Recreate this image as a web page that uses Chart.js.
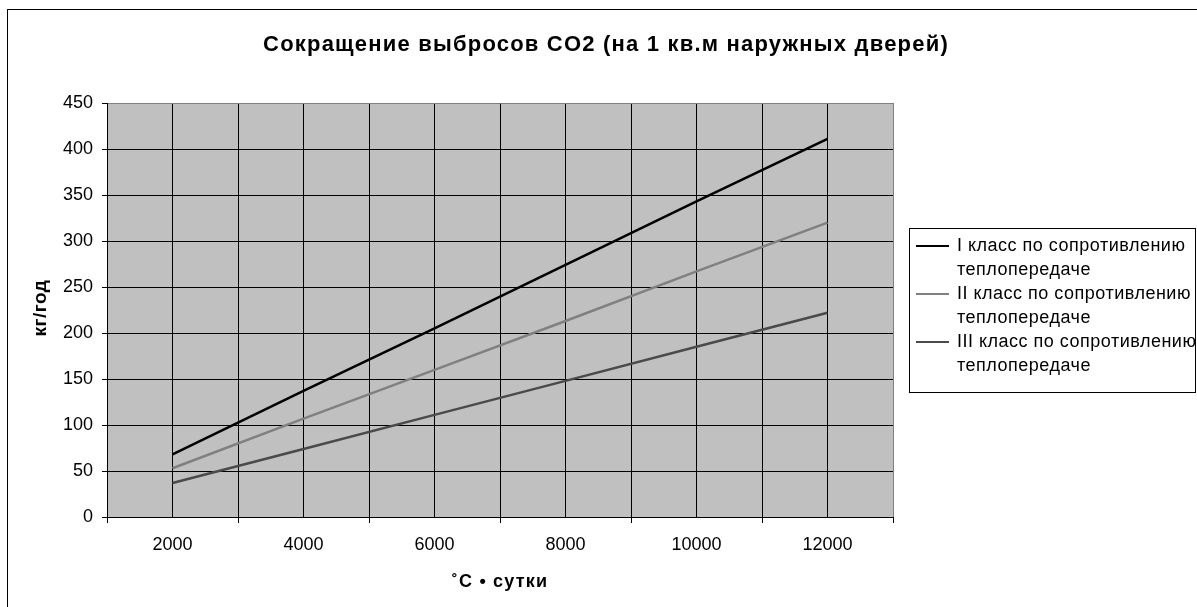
<!DOCTYPE html>
<html>
<head>
<meta charset="utf-8">
<script src="https://cdn.jsdelivr.net/npm/chart.js@4/dist/chart.umd.min.js"></script>
<style>
  html, body { margin: 0; padding: 0; background: #ffffff; }
  #wrap { position: relative; width: 1197px; height: 607px; overflow: hidden; }
</style>
</head>
<body>
<div id="wrap"><canvas id="c" width="1197" height="607"></canvas></div>
<script>
// Degree-days (°C • сутки)
const degreeDays = [2000, 4000, 6000, 8000, 10000, 12000];
// CO2 reduction, kg per year per 1 m² of exterior doors
const classI   = [68, 137, 205, 274, 343, 411];
const classII  = [53, 107, 160, 213, 267, 320];
const classIII = [37, 74, 111, 148, 185, 222];

const seriesNames = [
  ['I класс по сопротивлению', 'теплопередаче'],
  ['II класс по сопротивлению', 'теплопередаче'],
  ['III класс по сопротивлению', 'теплопередаче']
];
const seriesColors = ['#000000', '#808080', '#4a4a4a'];

const FONT = '"Liberation Sans", Arial, sans-serif';

function pts(values) {
  return degreeDays.map((x, i) => ({ x: x, y: values[i] }));
}

const decor = {
  id: 'decor',
  beforeDraw(chart) {
    const { ctx, chartArea: a } = chart;
    ctx.save();
    ctx.fillStyle = '#ffffff';
    ctx.fillRect(0, 0, chart.width, chart.height);
    ctx.fillStyle = '#c0c0c0';
    ctx.fillRect(a.left, a.top, a.right - a.left, a.bottom - a.top);
    ctx.restore();
  },
  afterDraw(chart) {
    const { ctx } = chart;
    ctx.save();
    // outer frame
    ctx.strokeStyle = '#000000';
    ctx.lineWidth = 1;
    ctx.strokeRect(7.5, 9.5, 1400, 800);

    // title
    ctx.fillStyle = '#000000';
    ctx.textAlign = 'center';
    ctx.textBaseline = 'middle';
    ctx.letterSpacing = '1.2px';
    ctx.font = 'bold 22px ' + FONT;
    ctx.fillText('Сокращение выбросов CO2 (на 1 кв.м наружных дверей)', 606, 45);

    // axis titles
    ctx.letterSpacing = '1.2px';
    ctx.font = 'bold 18px ' + FONT;
    ctx.fillText('˚C • сутки', 500, 582);
    ctx.save();
    ctx.translate(41, 308);
    ctx.rotate(-Math.PI / 2);
    ctx.letterSpacing = '0.5px';
    ctx.font = 'bold 19px ' + FONT;
    ctx.fillText('кг/год', 0, 0);
    ctx.restore();

    // legend
    ctx.strokeStyle = '#000000';
    ctx.lineWidth = 1;
    ctx.strokeRect(909.5, 228.5, 286, 164);
    ctx.letterSpacing = '0.5px';
    ctx.font = '18px ' + FONT;
    ctx.textAlign = 'left';
    const rows = [246, 294, 342];
    rows.forEach((y, i) => {
      ctx.strokeStyle = seriesColors[i];
      ctx.lineWidth = 2;
      ctx.beginPath();
      ctx.moveTo(916, y);
      ctx.lineTo(949, y);
      ctx.stroke();
      ctx.fillStyle = '#000000';
      ctx.fillText(seriesNames[i][0], 957, y);
      ctx.fillText(seriesNames[i][1], 957, y + 24);
    });
    ctx.restore();
  }
};

new Chart(document.getElementById('c'), {
  type: 'line',
  data: {
    datasets: [classI, classII, classIII].map((v, i) => ({
      label: seriesNames[i].join(' '),
      data: pts(v),
      borderColor: seriesColors[i],
      borderWidth: 2.5,
      pointRadius: 0,
      tension: 0,
      fill: false
    }))
  },
  options: {
    responsive: false,
    animation: false,
    layout: { padding: { left: 0, right: 304, top: 103, bottom: 0 } },
    plugins: { legend: { display: false }, title: { display: false }, tooltip: { enabled: false } },
    scales: {
      x: {
        type: 'linear',
        min: 1000,
        max: 13000,
        afterFit(s) { s.height = 90; },
        afterBuildTicks(s) {
          const t = [];
          for (let v = 1000; v <= 13000; v += 1000) t.push({ value: v });
          s.ticks = t;
        },
        ticks: {
          autoSkip: false,
          maxRotation: 0,
          padding: 11,
          color: '#000000',
          font: { family: FONT, size: 18 },
          callback: v => (v % 2000 === 0 ? String(v) : '')
        },
        grid: {
          color: c => (c.tick && c.tick.value === 13000 ? '#808080' : '#000000'),
          lineWidth: 1,
          tickLength: 6,
          tickColor: c => (c.tick && c.tick.value % 2000 === 0 ? 'rgba(0,0,0,0)' : '#000000')
        },
        border: { color: '#000000', width: 1 }
      },
      y: {
        min: 0,
        max: 450,
        afterFit(s) { s.width = 107; },
        ticks: {
          stepSize: 50,
          padding: 9,
          color: '#000000',
          font: { family: FONT, size: 18 }
        },
        grid: {
          color: c => (c.tick && c.tick.value === 450 ? '#808080' : '#000000'),
          lineWidth: 1,
          tickLength: 5,
          tickColor: '#000000'
        },
        border: { color: '#000000', width: 1 }
      }
    }
  },
  plugins: [decor]
});
</script>
</body>
</html>
